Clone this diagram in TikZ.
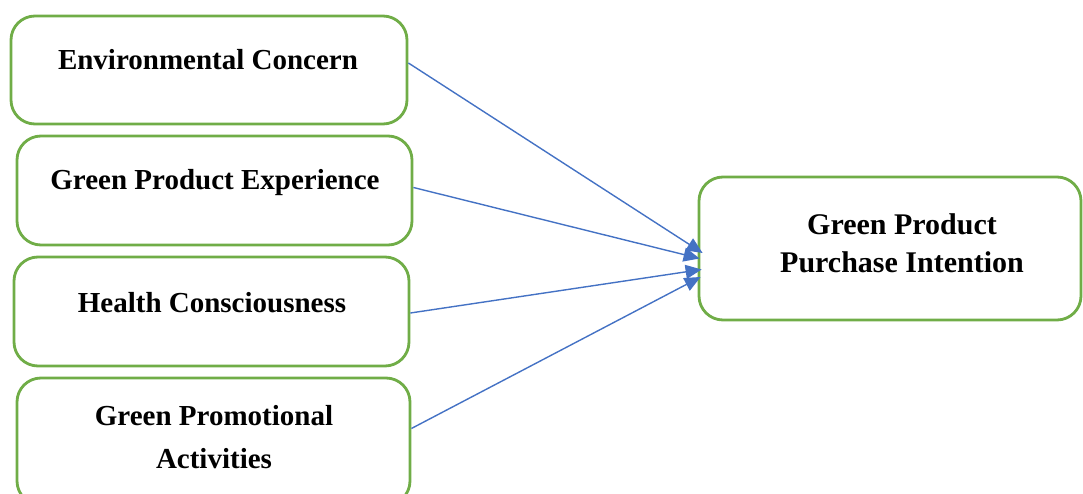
\documentclass[tikz,border=0pt]{standalone}
\usepackage{fontspec}
\setmainfont{Liberation Serif}
\usetikzlibrary{arrows.meta,calc}
\definecolor{boxgreen}{HTML}{70AD47}
\definecolor{arrblue}{HTML}{4472C4}
\begin{document}
\begin{tikzpicture}[x=1pt,y=-1pt,
  gbox/.style={draw=boxgreen,line width=2.8pt,rounded corners=24pt,fill=white,inner sep=0pt},
  lbl/.style={font=\fontsize{29}{43}\selectfont\bfseries,align=center,inner sep=0pt},
  tlbl/.style={font=\fontsize{30}{38}\selectfont\bfseries,align=center,inner sep=0pt},
  arr/.style={draw=arrblue,line width=1.4pt,-{Triangle[length=16pt,width=14pt]}}]
\useasboundingbox (0,0) rectangle (1083,494);
% boxes
\node[gbox,minimum width=396pt,minimum height=108pt] (b1) at (209,70) {};
\node[gbox,minimum width=395pt,minimum height=109pt] (b2) at (214.5,190.5) {};
\node[gbox,minimum width=395pt,minimum height=109pt] (b3) at (211.5,311.5) {};
\node[gbox,minimum width=393pt,minimum height=127pt] (b4) at (213.5,441.5) {};
\node[gbox,minimum width=382pt,minimum height=143pt] (t) at (890,248.5) {};
% labels
\node[lbl,anchor=base] (l1) at (208,70) {Environmental Concern};
\node[lbl,anchor=base] (l2) at (215,190) {Green Product Experience};
\node[lbl,anchor=base] (l3) at (212,312) {Health Consciousness};
\node[lbl] (l4) at (214,437) {Green Promotional\\Activities};
\node[tlbl] (lt) at (902,243) {Green Product\\Purchase Intention};
% connectors
\draw[arr] ($(b1.east)+(0,-7)$) -- ($(t.west)+(5,4.5)$);
\draw[arr] ($(b2.east)+(0,-3)$) -- ($(t.west)+(2,10)$);
\draw[arr] ($(b3.east)+(0,1.5)$) -- ($(t.west)+(4,21)$);
\draw[arr] ($(b4.east)+(0,-13)$) -- ($(t.west)+(3,28.5)$);
\end{tikzpicture}
\end{document}
